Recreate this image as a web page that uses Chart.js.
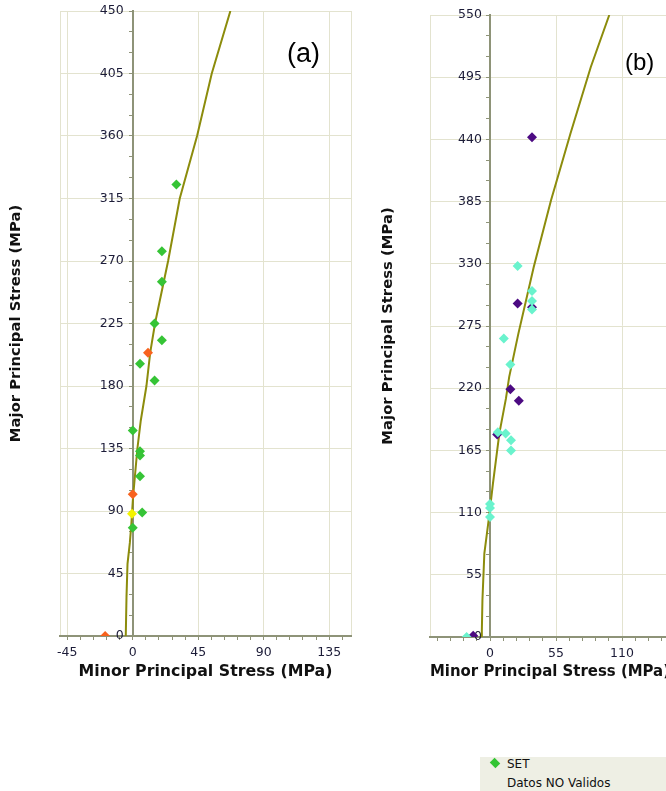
<!DOCTYPE html>
<html>
<head>
<meta charset="utf-8">
<script src="https://cdn.jsdelivr.net/npm/chart.js@4/dist/chart.umd.min.js"></script>
<style>
html, body { margin:0; padding:0; background:#ffffff; width:666px; height:791px; overflow:hidden; }
body { position:relative; font-family:"DejaVu Sans", Verdana, sans-serif; }
#wa { position:absolute; left:0; top:0; width:360px; height:685px; }
#wb { position:absolute; left:370px; top:0; width:310px; height:685px; }
.plab { position:absolute; font-family:"Liberation Sans", Arial, sans-serif; line-height:1; color:#000; }
#la { left:287px; top:40px; font-size:27px; }
#lb { left:625px; top:50px; font-size:24px; }
#legend { position:absolute; left:480px; top:757px; width:186px; height:34px; background:#eeefe4; }
#legend .row { position:absolute; left:27px; font-size:12px; color:#111; white-space:nowrap; line-height:14px; }
#legend .mk { position:absolute; left:11px; top:2px; width:8px; height:8px; background:#33c433; transform:rotate(45deg) scaleY(0.85); }
</style>
</head>
<body>
<div id="wa"><canvas id="ca"></canvas></div>
<div id="wb"><canvas id="cb"></canvas></div>
<div class="plab" id="la">(a)</div>
<div class="plab" id="lb">(b)</div>
<div id="legend">
  <div class="mk"></div>
  <div class="row" style="top:0px;">SET</div>
  <div class="row" style="top:19px;">Datos NO Validos</div>
</div>
<script>
// ---------- Panel (a) data ----------
const aSetX    = [30, 20, 20, 15, 20, 5, 15, 0, 5, 5, 5, 6.5, 0];
const aSetY    = [325, 277, 255, 225, 213, 196, 184, 148, 133, 130, 115, 89, 78];
const aOrangeX = [10.5, 0, -19];
const aOrangeY = [204, 102, 0];
const aYellowX = [-0.5];
const aYellowY = [88];
const aCurveX  = [-4.8, -4.3, -3.6, -2, -1, 0.2, 3.2, 5.5, 9.4, 12, 15.3, 24.3, 32.3, 44.2, 54.3, 67.1];
const aCurveY  = [0, 28, 52, 67, 80, 100, 135, 155, 180, 204, 225, 270, 315, 360, 405, 450];
const aXTicks  = [-45, 0, 45, 90, 135];
const aYTicks  = [0, 45, 90, 135, 180, 225, 270, 315, 360, 405, 450];

// ---------- Panel (b) data ----------
const bPurpleX = [35, 23, 35, 17, 24, 6, -14];
const bPurpleY = [442, 295, 291.5, 219, 209, 179, 1];
const bCyanX   = [23, 35, 35, 35, 11.5, 17, 6.5, 13, 17.5, 17.5, 0, 0, 0, -19.5];
const bCyanY   = [328, 306, 297, 289.5, 264, 241, 181, 180, 174, 165, 117.6, 114, 106, 0];
const bCurveX  = [-7.5, -6.8, -6.3, -4.7, -0.8, 2.5, 7.8, 13.3, 16, 23.6, 36.4, 50.8, 67, 84, 99.4];
const bCurveY  = [0, 5, 33, 74, 106, 136, 180, 211, 230, 268, 327, 386, 445, 504, 550];
const bXTicks  = [0, 55, 110];
const bYTicks  = [0, 55, 110, 165, 220, 275, 330, 385, 440, 495, 550];

const XTITLE = 'Minor Principal Stress (MPa)';
const YTITLE = 'Major Principal Stress (MPa)';

Chart.defaults.font.family = '"DejaVu Sans", Verdana, sans-serif';
Chart.defaults.animation = false;

const GRID = '#e3e3cf';
const AXIS = '#8e9378';
const TICKC = '#1c1c38';

function pts(xs, ys) { return xs.map((x, i) => ({ x: x, y: ys[i] })); }
function pointSet(label, xs, ys, color) {
  return { label: label, data: pts(xs, ys), showLine: false, pointStyle: 'rectRot',
           pointRadius: 5, pointHoverRadius: 5, backgroundColor: color, borderColor: color,
           borderWidth: 0, clip: 0 };
}
function curveSet(xs, ys) {
  return { label: 'Criterio', data: pts(xs, ys), showLine: true, borderColor: '#8c8c0c',
           borderWidth: 2, pointRadius: 0, tension: 0, fill: false };
}

function makeOpts(cfg) {
  return {
    responsive: true,
    maintainAspectRatio: false,
    layout: { autoPadding: false, padding: { left: cfg.padL, right: cfg.padR, top: cfg.padT, bottom: 0 } },
    plugins: { legend: { display: false }, tooltip: { enabled: false } },
    scales: {
      x: {
        type: 'linear', position: 'bottom', min: cfg.xMin, max: cfg.xMax,
        afterBuildTicks: s => { s.ticks = [cfg.xMin].concat(cfg.xTicks, [cfg.xMax]).map(v => ({ value: v })); },
        afterFit: s => { s.height = cfg.xH; },
        ticks: { autoSkip: false, maxRotation: 0, padding: 9, color: TICKC, font: { size: 12.5 },
                 callback: v => cfg.xTicks.includes(v) ? String(v) : '' },
        grid: { color: GRID, lineWidth: 1, drawTicks: false },
        border: { display: true, color: AXIS, width: 2 },
        title: { display: true, text: XTITLE, color: '#111111', padding: { top: 4, bottom: 4 },
                 font: { size: 15.8, weight: 'bold' } }
      },
      y: {
        type: 'linear', axis: 'y', position: { x: 0 }, min: 0, max: cfg.yMax,
        afterBuildTicks: s => { s.ticks = cfg.yTicks.map(v => ({ value: v })); },
        ticks: { autoSkip: false, callback: () => '' },
        grid: { color: GRID, lineWidth: 1, drawTicks: false },
        border: { display: true, color: AXIS, width: 2 }
      },
      yLab: {
        type: 'linear', axis: 'y', position: { x: cfg.labX }, min: 0, max: cfg.yMax,
        afterBuildTicks: s => { s.ticks = cfg.yTicks.map(v => ({ value: v })); },
        ticks: { autoSkip: false, color: TICKC, font: { size: 12.5 }, callback: v => String(v) },
        grid: { drawOnChartArea: false, drawTicks: false },
        border: { display: false }
      },
      yMinor: {
        type: 'linear', axis: 'y', position: { x: 0 }, min: 0, max: cfg.yMax,
        ticks: { stepSize: cfg.yMinor, includeBounds: false, autoSkip: false, callback: () => '' },
        grid: { drawOnChartArea: false, drawTicks: true, tickLength: 4, tickColor: AXIS, lineWidth: 1 },
        border: { display: false }
      },
      xMinor: {
        type: 'linear', axis: 'x', position: { y: 0 }, min: cfg.xMin, max: cfg.xMax,
        ticks: { stepSize: cfg.xMinor, includeBounds: false, autoSkip: false, maxRotation: 0, callback: () => '' },
        grid: { drawOnChartArea: false, drawTicks: true, tickLength: 4, tickColor: AXIS, lineWidth: 1 },
        border: { display: false }
      },
      yt: {
        type: 'linear', axis: 'y', position: 'left', display: true,
        ticks: { display: false }, grid: { display: false }, border: { display: false },
        afterFit: s => { s.width = cfg.ytW; },
        title: { display: true, text: YTITLE, color: '#111111', padding: { top: 4, bottom: 4 },
                 font: { size: 14.8, weight: 'bold' } }
      }
    }
  };
}

new Chart(document.getElementById('ca'), {
  type: 'scatter',
  data: { datasets: [
    pointSet('SET', aSetX, aSetY, '#36c436'),
    pointSet('Naranja', aOrangeX, aOrangeY, '#f8621e'),
    pointSet('Amarillo', aYellowX, aYellowY, '#f4f400'),
    curveSet(aCurveX, aCurveY)
  ] },
  options: makeOpts({ padL: 3, padR: 8, padT: 11, xH: 49, ytW: 57,
                      xMin: -50, xMax: 150, xTicks: aXTicks, xMinor: 9, labX: -6.2,
                      yMax: 450, yTicks: aYTicks, yMinor: 15 })
});

new Chart(document.getElementById('cb'), {
  type: 'scatter',
  data: { datasets: [
    pointSet('Aguamarina', bCyanX, bCyanY, '#6af3cd'),
    pointSet('Morado', bPurpleX, bPurpleY, '#4c0a82'),
    curveSet(bCurveX, bCurveY)
  ] },
  options: makeOpts({ padL: 5, padR: 10, padT: 15, xH: 48, ytW: 55,
                      xMin: -50, xMax: 150, xTicks: bXTicks, xMinor: 11, labX: -6.7,
                      yMax: 550, yTicks: bYTicks, yMinor: 55 / 3 })
});
</script>
</body>
</html>
